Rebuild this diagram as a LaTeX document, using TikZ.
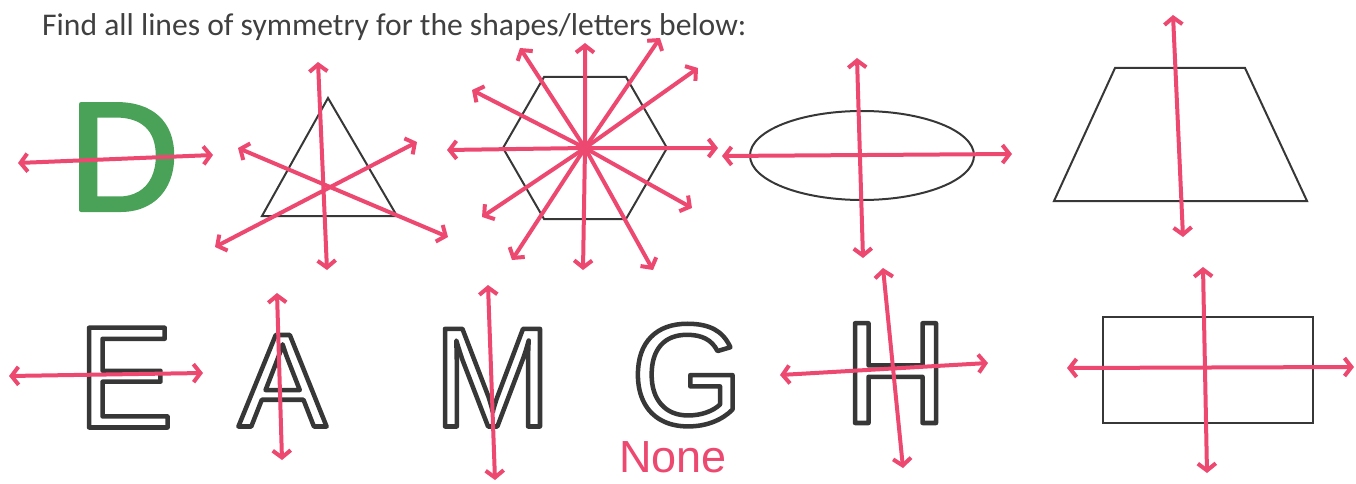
\documentclass[tikz,border=0pt]{standalone}
\usepackage{xcolor}
\usepackage{fontspec}
\setmainfont{Liberation Sans}
\newfontfamily\titlefont{Carlito}
\usetikzlibrary{
  arrows.meta
}
\definecolor{markerpink}{RGB}{236,72,112}
\definecolor{inkgray}{RGB}{55,55,55}
\definecolor{titlegray}{RGB}{64,64,64}
\definecolor{letterD}{RGB}{74,162,88}
% text drawn as outline (1 Tr) or filled+stroked (2 Tr)
\newcommand{\hollowtext}[2]{\special{pdf:literal direct #1 w 1 j 1 Tr}#2\special{pdf:literal direct 0 Tr}}
\newcommand{\thicktext}[2]{\special{pdf:literal direct #1 w 1 j 2 Tr}#2\special{pdf:literal direct 0 Tr}}
\tikzset{
  symline/.style = {
    draw=markerpink, line width=4pt, line cap=round, line join=round,
    {Straight Barb[length=7pt,width=18pt]}-{Straight Barb[length=7pt,width=18pt]}
  },
  shapeline/.style = {draw=inkgray, line width=2pt},
  bigletter/.style = {inner sep=0pt, anchor=base, text=inkgray},
}

\begin{document}
\begin{tikzpicture}[x=1pt,y=-1pt]
	\useasboundingbox (0,0) rectangle (1356,484);
	\node[anchor=base west, inner sep=0pt, text=titlegray,
	font=\titlefont\fontsize{31.6}{31.6}\selectfont] (title) at (42,36)
	{Find all lines of symmetry for the shapes/letters below:};
	
	% top row
	\node[bigletter, text=letterD, font=\fontsize{154}{154}\selectfont] (dee) at (124,210) {\thicktext{4}{D}};
	\coordinate (dW) at (18,163);
	\coordinate (dE) at (213,155);
	\draw[symline] (dW) -- (dE);
	
	\coordinate (triA) at (328,98);
	\coordinate (triB) at (262,216);
	\coordinate (triC) at (397,216);
	\draw[shapeline] (triA) -- (triB) -- (triC) -- cycle;
	\coordinate (triN) at (318,62);
	\coordinate (triS) at (327,270);
	\coordinate (triNE) at (417,142);
	\coordinate (triSW) at (215,247);
	\coordinate (triNW) at (238,148);
	\coordinate (triSE) at (448,237);
	\draw[symline] (triN) -- (triS);
	\draw[symline] (triNE) -- (triSW);
	\draw[symline] (triNW) -- (triSE);
	
	\coordinate (hexO) at (585,148);
	\draw[shapeline] (503,148) -- (544,77) -- (626,77) -- (667,148) -- (626,219) -- (544,219) -- cycle;
	\coordinate (hexW) at (447,150);
	\coordinate (hexE) at (718,148);
	\coordinate (hexN) at (585,43);
	\coordinate (hexS) at (583,270);
	\coordinate (hexNNW) at (520,48);
	\coordinate (hexSSE) at (653,270);
	\coordinate (hexNNE) at (660,38);
	\coordinate (hexSSW) at (512,260);
	\coordinate (hexWNW) at (472,90);
	\coordinate (hexESE) at (692,208);
	\coordinate (hexENE) at (698,68);
	\coordinate (hexWSW) at (482,217);
	\foreach \p/\q in {hexW/hexE, hexN/hexS, hexNNW/hexSSE, hexNNE/hexSSW, hexWNW/hexESE, hexENE/hexWSW}
	\draw[symline] (\p) -- (hexO) -- (\q);
	
	\coordinate (ellO) at (862,155.5);
	\draw[shapeline] (ellO) ellipse [x radius=112, y radius=44.5];
	\coordinate (ellW) at (722,156);
	\coordinate (ellE) at (1012,154);
	\coordinate (ellN) at (857,58);
	\coordinate (ellS) at (863,258);
	\draw[symline] (ellW) -- (ellE);
	\draw[symline] (ellN) -- (ellS);
	
	\draw[shapeline] (1115,68) -- (1245,68) -- (1307,201) -- (1054,201) -- cycle;
	\coordinate (trapN) at (1173,15);
	\coordinate (trapS) at (1183,237);
	\draw[symline] (trapN) -- (trapS);
	
	% bottom row
	\node[bigletter, font=\fontsize{145}{145}\selectfont] (ee) at (125.5,427.5) {\hollowtext{4.5}{E}};
	\coordinate (eW) at (9,376);
	\coordinate (eE) at (203,373);
	\draw[symline] (eW) -- (eE);
	
	\node[bigletter, font=\fontsize{133}{133}\selectfont] (ay) at (282.5,426.5) {\hollowtext{4.5}{A}};
	\coordinate (aN) at (277,293);
	\coordinate (aS) at (282,460);
	\draw[symline] (aN) -- (aS);
	
	\node[bigletter, font=\fontsize{142}{142}\selectfont] (em) at (492.5,426.5) {\hollowtext{4.5}{M}};
	\coordinate (mN) at (488,285);
	\coordinate (mS) at (495,480);
	\draw[symline] (mN) -- (mS);
	
	\node[bigletter, font=\fontsize{145}{145}\selectfont] (gee) at (687,425) {\hollowtext{4.5}{G}};
	\node[anchor=base west, inner sep=0pt, text=markerpink, font=\fontsize{45}{45}\selectfont] (none) at (619,472) {None};
	
	\node[bigletter, font=\fontsize{145}{145}\selectfont] (aitch) at (895.5,423) {\hollowtext{4.5}{H}};
	\coordinate (hW) at (780,375);
	\coordinate (hE) at (988,363);
	\coordinate (hN) at (883,268);
	\coordinate (hS) at (903,468);
	\draw[symline] (hW) -- (hE);
	\draw[symline] (hN) -- (hS);
	
	\draw[shapeline] (1103,317) rectangle (1313,423);
	\coordinate (rectW) at (1067,368);
	\coordinate (rectE) at (1354,367);
	\coordinate (rectN) at (1203,267);
	\coordinate (rectS) at (1207,473);
	\draw[symline] (rectW) -- (rectE);
	\draw[symline] (rectN) -- (rectS);
\end{tikzpicture}
\end{document}
